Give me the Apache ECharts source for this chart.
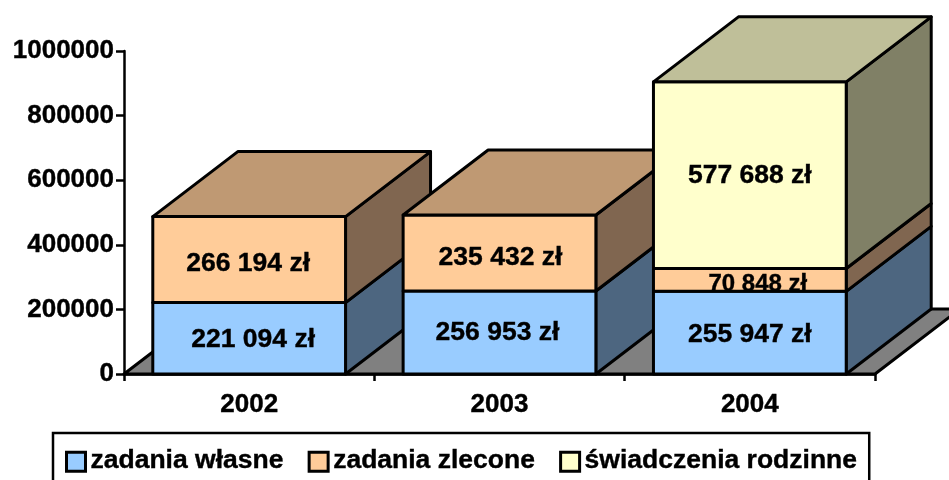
<!DOCTYPE html>
<html>
<head>
<meta charset="utf-8">
<style>
html, body { margin: 0; padding: 0; background: #fff; overflow: hidden; }
#main { width: 949px; height: 480px; }
</style>
<script src="https://cdn.jsdelivr.net/npm/echarts@6/dist/echarts.min.js"></script>
</head>
<body>
<div id="main"></div>
<script>
var categories = ['2002', '2003', '2004'];
var zadaniaWlasne = [221094, 256953, 255947];
var zadaniaZlecone = [266194, 235432, 70848];
var swiadczeniaRodzinne = [null, null, 577688];
var seriesNames = ['zadania własne', 'zadania zlecone', 'świadczenia rodzinne'];
var stacks = [zadaniaWlasne, zadaniaZlecone, swiadczeniaRodzinne];

// front, top and side colour of each stack level
var colors = [
    { front: '#99CCFF', top: '#7399BF', side: '#4D6680' },
    { front: '#FFCC99', top: '#BF9973', side: '#806650' },
    { front: '#FFFFCC', top: '#BFBF99', side: '#808066' }
];

// the labels were placed by hand in the original, [dx, dy] per level and year
var labelNudge = [
    [[4, 0], [-2, -1], [0, 1]],
    [[-1, 3], [1, 4], [8, 3]],
    [[0, 0], [0, 0], [0, 0]]
];

var FONT = '"Liberation Sans", Arial, sans-serif';
var DEPTH_X = 85;
var DEPTH_Y = 65;
var BAR_SHARE = 0.77;
var LINE_W = 3;
var AXIS_W = 2.5;
var TEXT_HEAVY = 0.4;

function poly(points, fill, z2) {
    return {
        type: 'polygon',
        z2: z2,
        shape: { points: points },
        style: { fill: fill, stroke: '#000', lineWidth: LINE_W, lineJoin: 'round' }
    };
}

function formatValue(v) {
    return String(v).replace(/\B(?=(\d{3})+$)/g, ' ') + ' zł';
}

// one stack level of one category: front, side, top (top only when nothing is above)
function boxRenderer(level) {
    return function (params, api) {
        var idx = api.value(0);
        var value = stacks[level][idx];
        if (value == null) {
            return;
        }
        var base = 0;
        for (var l = 0; l < level; l++) {
            base += stacks[l][idx] || 0;
        }
        var p0 = api.coord([idx, base]);
        var p1 = api.coord([idx, base + value]);
        var w = api.size([1, 0])[0] * BAR_SHARE;
        var xl = p0[0] - w / 2;
        var xr = p0[0] + w / 2;
        var yb = p0[1];
        var yt = p1[1];
        var c = colors[level];
        var z = (idx + 1) * 10 + level;
        var children = [
            poly([[xr, yb], [xr + DEPTH_X, yb - DEPTH_Y], [xr + DEPTH_X, yt - DEPTH_Y], [xr, yt]], c.side, z),
            poly([[xl, yb], [xr, yb], [xr, yt], [xl, yt]], c.front, z)
        ];
        var above = stacks.slice(level + 1).some(function (s) { return s[idx] != null; });
        if (!above) {
            children.push(poly([[xl, yt], [xr, yt], [xr + DEPTH_X, yt - DEPTH_Y], [xl + DEPTH_X, yt - DEPTH_Y]], c.top, z));
        }
        var nudge = labelNudge[level][idx];
        // the thin 70 848 segment has a slightly smaller label
        var size = yb - yt < 30 ? 24 : 26.5;
        children.push({
            type: 'text',
            z2: 100,
            style: {
                x: p0[0] + nudge[0],
                y: (yb + yt) / 2 + 1 + nudge[1],
                text: formatValue(value),
                fill: '#000',
                stroke: '#000',
                lineWidth: TEXT_HEAVY,
                font: 'bold ' + size + 'px ' + FONT,
                align: 'center',
                verticalAlign: 'middle'
            }
        });
        return { type: 'group', children: children };
    };
}

function renderFloor(params, api) {
    var band = api.size([1, 0])[0];
    var a = api.coord([0, 0]);
    var b = api.coord([categories.length - 1, 0]);
    var xl = a[0] - band / 2;
    var xr = b[0] + band / 2;
    var y = a[1];
    return poly([[xl, y], [xr, y], [xr + DEPTH_X, y - DEPTH_Y], [xl + DEPTH_X, y - DEPTH_Y]], '#808080', 1);
}

var series = [{
    type: 'custom',
    name: 'floor',
    silent: true,
    renderItem: renderFloor,
    data: [[0, 0]],
    clip: false,
    z: 1
}];
seriesNames.forEach(function (name, level) {
    series.push({
        type: 'custom',
        name: name,
        renderItem: boxRenderer(level),
        itemStyle: { color: colors[level].front },
        data: categories.map(function (c, i) { return [i, stacks[level][i] || 0]; }),
        clip: false,
        z: 2
    });
});

var chart = echarts.init(document.getElementById('main'), null, { renderer: 'canvas' });
chart.setOption({
    animation: false,
    backgroundColor: '#fff',
    grid: { left: 124, right: 74, top: 51, bottom: 106 },
    legend: {
        data: seriesNames,
        left: 53,
        top: 433,
        orient: 'horizontal',
        padding: [14, 12, 20, 12],
        itemGap: 24,
        itemWidth: 19,
        itemHeight: 19,
        icon: 'rect',
        borderColor: '#000',
        borderWidth: AXIS_W,
        itemStyle: { borderColor: '#000', borderWidth: LINE_W },
        formatter: function (name) { return '{t|' + name + '}'; },
        textStyle: {
            color: '#000', fontFamily: FONT, fontWeight: 'bold', fontSize: 26.5,
            rich: {
                t: {
                    color: '#000', fontFamily: FONT, fontWeight: 'bold', fontSize: 26.5,
                    textBorderColor: '#000', textBorderWidth: TEXT_HEAVY, padding: [0, 0, 2, 0]
                }
            }
        }
    },
    xAxis: {
        type: 'category',
        data: categories,
        axisLine: { lineStyle: { color: '#000', width: AXIS_W } },
        axisTick: { show: true, alignWithLabel: false, length: 7, lineStyle: { color: '#000', width: AXIS_W } },
        axisLabel: {
            color: '#000', fontFamily: FONT, fontWeight: 'bold', fontSize: 26, margin: 18,
            textBorderColor: '#000', textBorderWidth: TEXT_HEAVY
        }
    },
    yAxis: {
        type: 'value',
        min: 0,
        max: 1000000,
        interval: 200000,
        splitLine: { show: false },
        axisLine: { show: true, lineStyle: { color: '#000', width: AXIS_W } },
        axisTick: { show: true, length: 8, lineStyle: { color: '#000', width: AXIS_W } },
        axisLabel: {
            color: '#000', fontFamily: FONT, fontWeight: 'bold', fontSize: 26, margin: 10, padding: [3, 0, 0, 0],
            textBorderColor: '#000', textBorderWidth: TEXT_HEAVY,
            formatter: function (v) { return String(v); }
        }
    },
    series: series
});
</script>
</body>
</html>
